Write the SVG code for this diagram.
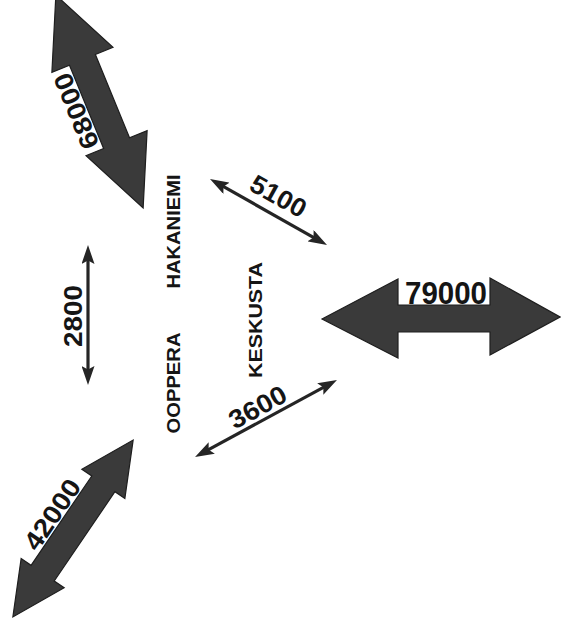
<svg xmlns="http://www.w3.org/2000/svg" width="561" height="632" viewBox="0 0 561 632">
  <style>
    .name { font-family: "Liberation Sans", Arial, sans-serif; font-weight: bold; font-size: 18px; fill: #151515; }
    .num { font-family: "Liberation Sans", Arial, sans-serif; font-weight: bold; fill: #151515; }
    .big { fill: #3a3a3a; stroke: #1e1e1e; stroke-width: 1.2; stroke-linejoin: miter; }
    .thin { stroke: #252525; stroke-width: 3.2; fill: none; }
  </style>
  <defs>
    <marker id="ah" viewBox="0 0 19 13" refX="12" refY="6.5" markerWidth="19" markerHeight="13" markerUnits="userSpaceOnUse" orient="auto-start-reverse">
      <path d="M0,0 L19,6.5 L0,13 L3.5,6.5 Z" fill="#252525"/>
    </marker>
  </defs>
  <rect width="561" height="632" fill="#ffffff"/>

  <g id="node-hakaniemi">
    <text class="name" transform="translate(180,231.5) rotate(-90)" text-anchor="middle" textLength="114" lengthAdjust="spacingAndGlyphs">HAKANIEMI</text>
  </g>
  <g id="node-ooppera">
    <text class="name" transform="translate(180,383) rotate(-90)" text-anchor="middle" textLength="101" lengthAdjust="spacingAndGlyphs">OOPPERA</text>
  </g>
  <g id="node-keskusta">
    <text class="name" transform="translate(262,320) rotate(-90)" text-anchor="middle" textLength="116" lengthAdjust="spacingAndGlyphs">KESKUSTA</text>
  </g>

  <g id="connectors">
    <g id="flow-68000" transform="translate(99.5,101.5) rotate(67.7)">
      <polygon class="big" points="-115,0 -45,-33 -45,-14 45,-14 45,-33 115,0 45,33 45,14 -45,14 -45,33"/>
      <text class="num" font-size="26" transform="translate(0,16) rotate(180)" text-anchor="middle" textLength="80" lengthAdjust="spacingAndGlyphs">68000</text>
    </g>
    <g id="flow-79000">
      <polygon class="big" points="322,319 398,279 398,305 490,305 490,278 560,317 490,355 490,332 398,332 398,358"/>
      <text class="num" font-size="31" x="446" y="304" text-anchor="middle" textLength="82" lengthAdjust="spacingAndGlyphs">79000</text>
    </g>
    <g id="flow-42000" transform="translate(73,528.5) rotate(-55.8)">
      <polygon class="big" points="-107,0 -54,-26 -54,-14 54,-14 54,-26 107,0 54,26 54,14 -54,14 -54,26"/>
      <text class="num" font-size="26" x="0" y="-16" text-anchor="middle" textLength="80" lengthAdjust="spacingAndGlyphs">42000</text>
    </g>
    <g id="flow-2800">
      <line class="thin" x1="88" y1="252" x2="88" y2="378" marker-start="url(#ah)" marker-end="url(#ah)"/>
      <text class="num" font-size="26" transform="translate(82,316) rotate(-90)" text-anchor="middle" textLength="62" lengthAdjust="spacingAndGlyphs">2800</text>
    </g>
    <g id="flow-5100">
      <line class="thin" x1="216.1" y1="182.4" x2="320.9" y2="241.6" marker-start="url(#ah)" marker-end="url(#ah)"/>
      <text class="num" font-size="26" transform="translate(274,204) rotate(29)" text-anchor="middle" textLength="60" lengthAdjust="spacingAndGlyphs">5100</text>
    </g>
    <g id="flow-3600">
      <line class="thin" x1="201.2" y1="453.7" x2="330.8" y2="383.3" marker-start="url(#ah)" marker-end="url(#ah)"/>
      <text class="num" font-size="26" transform="translate(262,415) rotate(-28.5)" text-anchor="middle" textLength="62" lengthAdjust="spacingAndGlyphs">3600</text>
    </g>
  </g>
</svg>
